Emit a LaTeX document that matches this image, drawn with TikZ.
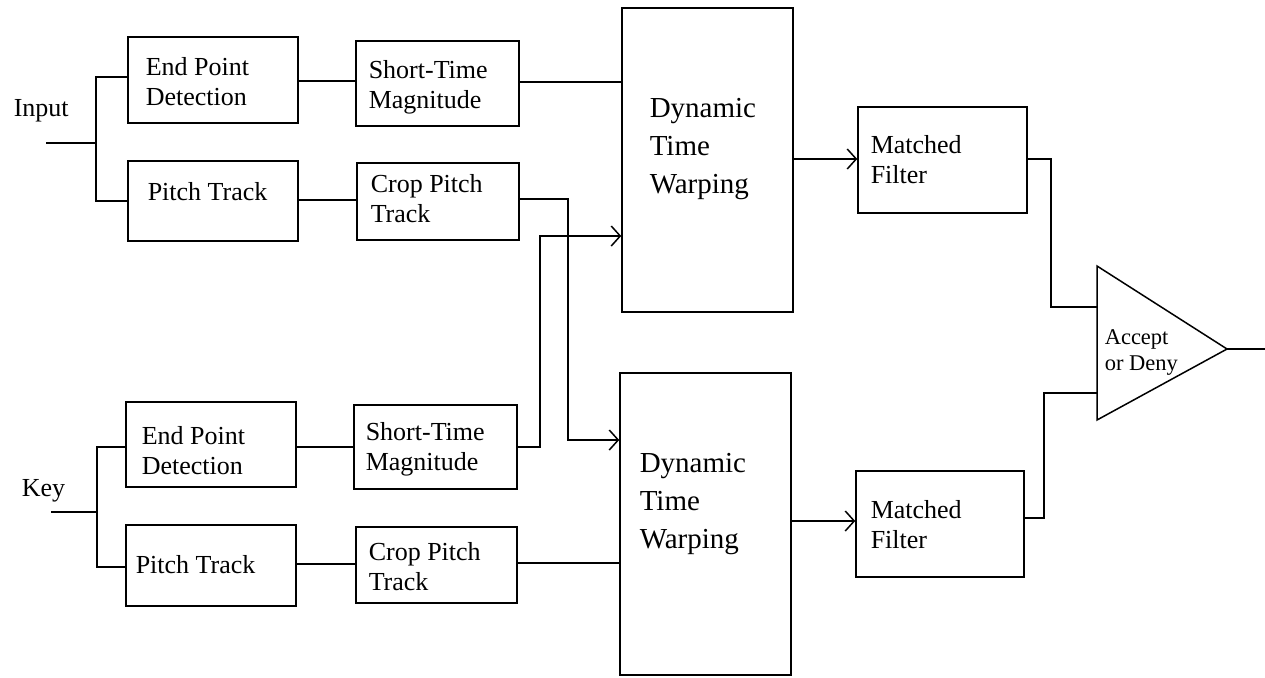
\documentclass[tikz,border=0pt]{standalone}
\usepackage{fontspec}
\setmainfont{Liberation Serif}
\usetikzlibrary{arrows.meta}
\begin{document}
\begin{tikzpicture}[x=1pt,y=-1pt, line width=1.5pt,
 box/.style={draw, rectangle, inner sep=0pt},
 lbl/.style={anchor=north west, inner sep=0pt, align=left, font=\fontsize{26}{30}\selectfont},
 big/.style={lbl, font=\fontsize{29}{38}\selectfont},
 small/.style={lbl, font=\fontsize{22.5}{26}\selectfont},
 arr/.style={-{Straight Barb[length=9pt,width=20pt]}}]
\useasboundingbox (0,0) rectangle (1265,677);

% boxes
\node[box, minimum width=170pt, minimum height=86pt] (epd1) at (213,80) {};
\node[box, minimum width=170pt, minimum height=80pt] (pt1) at (213,201) {};
\node[box, minimum width=163pt, minimum height=85pt] (stm1) at (437.5,83.5) {};
\node[box, minimum width=162pt, minimum height=77pt] (cpt1) at (438,201.5) {};
\node[box, minimum width=171pt, minimum height=304pt] (dtw1) at (707.5,160) {};
\node[box, minimum width=169pt, minimum height=106pt] (mf1) at (942.5,160) {};
\node[box, minimum width=170pt, minimum height=85pt] (epd2) at (211,444.5) {};
\node[box, minimum width=170pt, minimum height=81pt] (pt2) at (211,565.5) {};
\node[box, minimum width=163pt, minimum height=84pt] (stm2) at (435.5,447) {};
\node[box, minimum width=161pt, minimum height=76pt] (cpt2) at (436.5,565) {};
\node[box, minimum width=171pt, minimum height=302pt] (dtw2) at (705.5,524) {};
\node[box, minimum width=168pt, minimum height=106pt] (mf2) at (940,524) {};

% triangle
\coordinate (tA) at (1097,266);
\coordinate (tB) at (1097,420);
\coordinate (tC) at (1227,349);
\draw[line join=miter] (tA) -- (tC) -- (tB) -- cycle;

% labels
\node[lbl] (tin) at (13,96) {\rule{0pt}{20pt}Input};
\node[lbl] (tkey) at (21,476) {\rule{0pt}{20pt}Key};
\node[lbl] (tepd1) at (145,55) {\rule{0pt}{20pt}End Point\\Detection};
\node[lbl] (tpt1) at (147,180) {\rule{0pt}{20pt}Pitch Track};
\node[lbl] (tstm1) at (368,58) {\rule{0pt}{20pt}Short-Time\\Magnitude};
\node[lbl] (tcpt1) at (370,172) {\rule{0pt}{20pt}Crop Pitch\\Track};
\node[big] (tdtw1) at (649,94) {\rule{0pt}{23pt}Dynamic\\Time\\Warping};
\node[lbl] (tmf1) at (870,133) {\rule{0pt}{20pt}Matched\\Filter};
\node[lbl] (tepd2) at (141,424) {\rule{0pt}{20pt}End Point\\Detection};
\node[lbl] (tpt2) at (135,553) {\rule{0pt}{20pt}Pitch Track};
\node[lbl] (tstm2) at (365,420) {\rule{0pt}{20pt}Short-Time\\Magnitude};
\node[lbl] (tcpt2) at (368,540) {\rule{0pt}{20pt}Crop Pitch\\Track};
\node[big] (tdtw2) at (639,449) {\rule{0pt}{23pt}Dynamic\\Time\\Warping};
\node[lbl] (tmf2) at (870,498) {\rule{0pt}{20pt}Matched\\Filter};
\node[small] (tacc) at (1104,327) {\rule{0pt}{17pt}Accept\\or Deny};

% input branches
\coordinate (inS) at (46,143);
\coordinate (inJ) at (96,143);
\draw (inS) -- (inJ);
\draw (epd1.west |- 0,77) -| (inJ) |- (pt1.west |- 0,201);
\coordinate (kS) at (51,512);
\coordinate (kJ) at (97,512);
\draw (kS) -- (kJ);
\draw (epd2.west |- 0,447) -| (kJ) |- (pt2.west |- 0,567);

% chains
\draw (epd1.east |- 0,81) -- (stm1.west |- 0,81);
\draw (pt1.east |- 0,200) -- (cpt1.west |- 0,200);
\draw (stm1.east |- 0,82) -- (dtw1.west |- 0,82);
\draw (epd2.east |- 0,447) -- (stm2.west |- 0,447);
\draw (pt2.east |- 0,564) -- (cpt2.west |- 0,564);
\draw (cpt2.east |- 0,563) -- (dtw2.west |- 0,563);
\draw[arr] (cpt1.east |- 0,199) -| (568,320) |- (dtw2.west |- 0,440);
\draw[arr] (stm2.east |- 0,447) -| (540,340) |- (dtw1.west |- 0,236);
\draw[arr] (dtw1.east |- 0,159) -- (mf1.west |- 0,159);
\draw[arr] (dtw2.east |- 0,521) -- (mf2.west |- 0,521);
\draw (mf1.east |- 0,159) -| (1051,240) |- (tA |- 0,307);
\draw (mf2.east |- 0,518) -| (1044,450) |- (tA |- 0,393);
\coordinate (outE) at (1265,349);
\draw (tC) -- (outE);
\end{tikzpicture}
\end{document}
